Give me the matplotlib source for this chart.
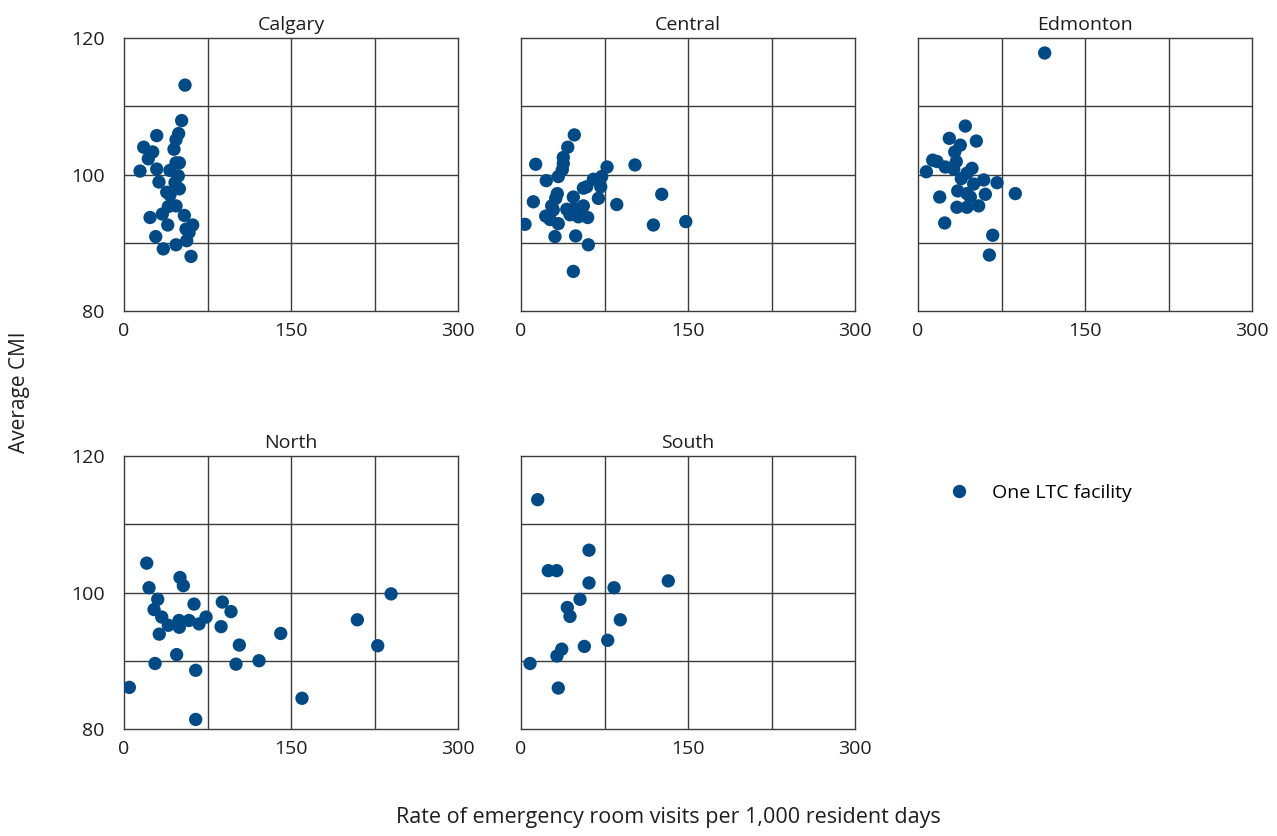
import matplotlib
matplotlib.use("Agg")
import matplotlib.pyplot as plt

# data: ER visit rate (x) and average CMI (y)
calgary_x = [54.8, 51.8, 49.1, 29.4, 46.7, 17.7, 25.8, 44.9, 21.8, 46.7, 49.7, 14.4, 29.4, 41.3,
             48.8, 31.4, 45.8, 49.7, 38.4, 41.3, 46.7, 39.8, 34.4, 54.2, 23.4, 39.3, 61.7, 55.7,
             58.4, 28.5, 56.3, 46.7, 35.3, 60.2]
calgary_y = [113.1, 107.9, 106.0, 105.7, 105.1, 104.0, 103.3, 103.7, 102.3, 101.7, 101.7, 100.5,
             100.8, 100.6, 99.8, 98.9, 98.8, 97.9, 97.4, 97.0, 95.4, 95.3, 94.2, 94.0, 93.7, 92.6,
             92.6, 92.0, 91.5, 90.9, 90.3, 89.7, 89.1, 88.0]

central_x = [47.9, 42.0, 13.2, 38.0, 38.0, 37.1, 102.4, 77.3, 33.5, 22.7, 72.5, 65.0, 59.0, 56.0,
             71.6, 126.4, 32.6, 31.2, 11.1, 47.0, 69.5, 86.0, 27.6, 56.0, 41.1, 47.9, 29.0, 44.0,
             51.5, 59.9, 22.2, 26.1, 33.5, 3.6, 118.9, 148.0, 30.5, 49.1, 60.5, 47.0]
central_y = [105.8, 104.0, 101.5, 102.5, 101.6, 100.7, 101.4, 101.1, 99.7, 99.1, 99.7, 99.3, 98.2,
             98.0, 98.2, 97.1, 97.2, 96.5, 96.0, 96.7, 96.5, 95.6, 95.4, 95.4, 94.9, 95.0, 94.8,
             94.1, 93.8, 93.7, 93.9, 93.4, 92.8, 92.7, 92.6, 93.1, 90.9, 91.0, 89.7, 85.8]

edmonton_x = [113.8, 42.5, 28.1, 52.4, 38.0, 33.0, 13.2, 17.1, 34.4, 24.5, 32.1, 48.5, 7.5, 44.0,
              38.9, 59.0, 71.0, 50.0, 35.7, 44.0, 60.5, 87.4, 19.5, 47.0, 35.0, 44.0, 54.5, 24.0,
              67.1, 64.1]
edmonton_y = [117.8, 107.1, 105.3, 104.9, 104.3, 103.3, 102.1, 101.9, 101.9, 101.1, 100.8, 100.9,
              100.4, 100.2, 99.4, 99.2, 98.8, 98.6, 97.6, 97.2, 97.1, 97.2, 96.7, 96.7, 95.2, 95.2,
              95.4, 92.9, 91.1, 88.2]

north_x = [20.4, 50.3, 53.3, 22.5, 30.3, 62.9, 88.3, 239.9, 27.0, 96.1, 33.9, 73.7, 49.4, 58.4,
           39.8, 49.7, 67.4, 87.2, 209.6, 31.7, 140.8, 227.9, 103.6, 47.3, 27.9, 100.6, 121.3,
           64.4, 4.8, 159.9, 64.4]
north_y = [104.3, 102.2, 101.0, 100.7, 99.0, 98.3, 98.6, 99.8, 97.5, 97.2, 96.4, 96.4, 95.9, 95.9,
           95.2, 94.9, 95.4, 95.0, 96.0, 93.9, 94.0, 92.2, 92.3, 90.9, 89.6, 89.5, 90.0, 88.6,
           86.1, 84.5, 81.4]

south_x = [15.0, 61.1, 24.5, 32.1, 61.1, 132.3, 83.6, 53.0, 41.6, 44.0, 89.2, 77.9, 56.9, 36.6,
           32.3, 8.1, 33.5]
south_y = [113.6, 106.2, 103.2, 103.2, 101.4, 101.7, 100.7, 99.0, 97.8, 96.5, 96.0, 93.0, 92.1,
           91.7, 90.7, 89.6, 86.0]

zones = ["Calgary", "Central", "Edmonton", "North", "South"]
xs = [calgary_x, central_x, edmonton_x, north_x, south_x]
ys = [calgary_y, central_y, edmonton_y, north_y, south_y]

plt.rcParams['font.family'] = ['Open Sans', 'DejaVu Sans']
dot_color = "#004B87"
line_color = "#3c3c3c"
text_color = "#1e1e1e"

fig = plt.figure(figsize=(12.77, 8.36), dpi=100)

W, H = 1277, 836
lefts = [124, 521, 918]
tops = [38, 456]
aw, ah = 334, 273

for i in range(5):
    row, col = divmod(i, 3)
    l = lefts[col] / W
    b = 1 - (tops[row] + ah) / H
    ax = fig.add_axes([l, b, aw / W, ah / H])
    ax.scatter(xs[i], ys[i], s=92, color=dot_color, edgecolors="none", zorder=3)
    ax.set_xlim(0, 300)
    ax.set_ylim(80, 120)
    # grid
    for gx in [75, 150, 225]:
        ax.axvline(gx, color=line_color, lw=1.0, zorder=1)
    for gy in [90, 100, 110]:
        ax.axhline(gy, color=line_color, lw=1.0, zorder=1)
    ax.set_xticks([0, 150, 300])
    ax.set_yticks([80, 100, 120])
    ax.tick_params(length=0, labelsize=14, colors=text_color)
    ax.tick_params(axis="x", pad=8)
    ax.tick_params(axis="y", pad=14)
    if col != 0:
        ax.set_yticklabels([])
    for sp in ax.spines.values():
        sp.set_color(line_color)
        sp.set_linewidth(1.0)
    ax.set_title(zones[i], fontsize=14, color=text_color, pad=6)

# legend
h = plt.Line2D([], [], marker="o", linestyle="none", markersize=9.6,
               markerfacecolor=dot_color, markeredgecolor="none")
fig.legend([h], ["One LTC facility"], loc="center left",
           bbox_to_anchor=(922 / W, 1 - 493 / H), frameon=False,
           fontsize=14, handletextpad=0.7)

fig.text(20 / W, 1 - 392 / H, "Average CMI", rotation=90, ha="center", va="center",
         fontsize=15, color=text_color)
fig.text(668 / W, 1 - 817 / H, "Rate of emergency room visits per 1,000 resident days",
         ha="center", va="center", fontsize=15.5, color=text_color)

fig.savefig("out.png", dpi=100)
